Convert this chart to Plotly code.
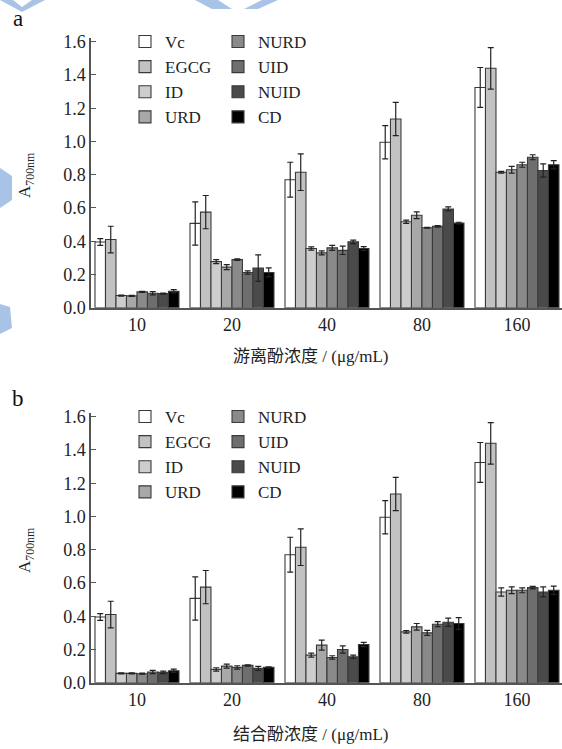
import plotly.graph_objects as go

# ---------------- data ----------------
concentrations = ["10", "20", "40", "80", "160"]
series_names = ["Vc", "EGCG", "ID", "URD", "NURD", "UID", "NUID", "CD"]
series_colors = ["#ffffff", "#c2c2c2", "#cdcdcd", "#a8a8a8", "#8a8a8a", "#6e6e6e", "#4a4a4a", "#000000"]

vc_vals = [0.395, 0.507, 0.77, 0.995, 1.325]
vc_err = [0.02, 0.13, 0.105, 0.10, 0.12]
egcg_vals = [0.41, 0.575, 0.815, 1.135, 1.44]
egcg_err = [0.08, 0.10, 0.11, 0.10, 0.125]

# panel a: free phenols
a_id = [0.073, 0.277, 0.356, 0.517, 0.815]
a_id_err = [0.003, 0.012, 0.01, 0.01, 0.005]
a_urd = [0.071, 0.244, 0.33, 0.556, 0.83]
a_urd_err = [0.003, 0.015, 0.012, 0.02, 0.02]
a_nurd = [0.095, 0.289, 0.36, 0.481, 0.86]
a_nurd_err = [0.003, 0.005, 0.015, 0.003, 0.015]
a_uid = [0.087, 0.212, 0.345, 0.489, 0.905]
a_uid_err = [0.01, 0.01, 0.025, 0.005, 0.015]
a_nuid = [0.085, 0.238, 0.396, 0.594, 0.825]
a_nuid_err = [0.003, 0.08, 0.01, 0.012, 0.04]
a_cd = [0.099, 0.212, 0.356, 0.509, 0.86]
a_cd_err = [0.01, 0.027, 0.012, 0.005, 0.025]

# panel b: bound phenols
b_id = [0.056, 0.08, 0.166, 0.306, 0.546]
b_id_err = [0.003, 0.01, 0.012, 0.008, 0.025]
b_urd = [0.056, 0.10, 0.226, 0.336, 0.556]
b_urd_err = [0.003, 0.012, 0.03, 0.02, 0.02]
b_nurd = [0.054, 0.092, 0.152, 0.30, 0.556]
b_nurd_err = [0.003, 0.01, 0.01, 0.015, 0.015]
b_uid = [0.064, 0.104, 0.20, 0.352, 0.572]
b_uid_err = [0.01, 0.004, 0.022, 0.015, 0.008]
b_nuid = [0.062, 0.086, 0.156, 0.364, 0.546]
b_nuid_err = [0.008, 0.012, 0.01, 0.025, 0.03]
b_cd = [0.072, 0.092, 0.23, 0.356, 0.556]
b_cd_err = [0.01, 0.003, 0.013, 0.035, 0.025]

y_ticks = [0.0, 0.2, 0.4, 0.6, 0.8, 1.0, 1.2, 1.4, 1.6]
x_title_a = "游离酚浓度 / (μg/mL)"
x_title_b = "结合酚浓度 / (μg/mL)"

panel_a = [(vc_vals, vc_err), (egcg_vals, egcg_err), (a_id, a_id_err), (a_urd, a_urd_err),
           (a_nurd, a_nurd_err), (a_uid, a_uid_err), (a_nuid, a_nuid_err), (a_cd, a_cd_err)]
panel_b = [(vc_vals, vc_err), (egcg_vals, egcg_err), (b_id, b_id_err), (b_urd, b_urd_err),
           (b_nurd, b_nurd_err), (b_uid, b_uid_err), (b_nuid, b_nuid_err), (b_cd, b_cd_err)]

# ---------------- layout geometry (pixels) ----------------
W, H = 562, 749
L = 91
PW = W - L
def px(x):
    return (x - L) / PW
def py(y):
    return 1 - y / H

SERIF = "Liberation Serif, Times New Roman, serif"
CJK = "Liberation Serif, Noto Sans CJK SC, serif"
xpos = list(range(len(concentrations)))

fig = go.Figure()
for panel, (data, xa, ya, lg1, lg2) in enumerate([
        (panel_a, "x", "y", "legend", "legend2"),
        (panel_b, "x2", "y2", "legend3", "legend4")]):
    for i, (name, color, (vals, errs)) in enumerate(zip(series_names, series_colors, data)):
        fig.add_trace(go.Bar(
            x=xpos, y=vals, name=name, xaxis=xa, yaxis=ya,
            legend=lg1 if i < 4 else lg2,
            offsetgroup=str(i),
            marker=dict(color=color, line=dict(color="#3a3a3a", width=1.1)),
            error_y=dict(type="data", array=errs, color="#222222", thickness=1.2, width=3),
        ))

axis_common_x = dict(
    tickmode="array", tickvals=xpos, ticktext=concentrations,
    range=[-0.484, 4.474], showgrid=False, zeroline=False,
    showline=True, linecolor="#555555", linewidth=1.5, ticks="",
    tickfont=dict(family=SERIF, size=18, color="#222222"),
)
axis_common_y = dict(
    range=[0, 1.62], tickvals=y_ticks, ticktext=[f"{v:.1f}" for v in y_ticks],
    showgrid=False, zeroline=False, showline=True, linecolor="#555555", linewidth=1.5,
    ticks="inside", ticklen=5, tickcolor="#555555", tickwidth=1.2,
    tickfont=dict(family=SERIF, size=18, color="#222222"),
)

legend_common = dict(
    font=dict(family=SERIF, size=17, color="#222222"),
    bgcolor="rgba(0,0,0,0)", traceorder="normal", orientation="v",
    xanchor="left", yanchor="top", tracegroupgap=0, itemclick=False,
)

fig.update_layout(
    width=W, height=H,
    margin=dict(l=L, r=0, t=0, b=0, autoexpand=False),
    paper_bgcolor="white", plot_bgcolor="white",
    barmode="group", bargap=0.116, bargroupgap=0,
    showlegend=True,
    xaxis=dict(axis_common_x, domain=[0, 1], anchor="y"),
    yaxis=dict(axis_common_y, domain=[py(307.7), py(38.4)], anchor="x"),
    xaxis2=dict(axis_common_x, domain=[0, 1], anchor="y2"),
    yaxis2=dict(axis_common_y, domain=[py(682.7), py(413.4)], anchor="x2"),
    legend=dict(legend_common, x=px(125), y=py(24)),
    legend2=dict(legend_common, x=px(218), y=py(24)),
    legend3=dict(legend_common, x=px(125), y=py(399)),
    legend4=dict(legend_common, x=px(218), y=py(399)),
)

annotations = [
    dict(text="a", x=px(18), y=py(19)),
    dict(text="b", x=px(18), y=py(398)),
]
for a in annotations:
    a.update(xref="paper", yref="paper", showarrow=False, xanchor="center", yanchor="middle",
             font=dict(family=SERIF, size=23, color="#111111"))
for yc in (175, 550):
    annotations.append(dict(text="A<sub>700nm</sub>", x=px(26), y=py(yc), xref="paper", yref="paper",
                            showarrow=False, textangle=-90, xanchor="center", yanchor="middle",
                            font=dict(family=SERIF, size=17, color="#222222")))
for txt, yc in ((x_title_a, 357), (x_title_b, 734)):
    annotations.append(dict(text=txt, x=px(311), y=py(yc), xref="paper", yref="paper",
                            showarrow=False, xanchor="center", yanchor="middle",
                            font=dict(family=CJK, size=17, color="#222222")))
fig.update_layout(annotations=annotations)

# light blue watermark fragments
def path_px(points):
    s = "M " + " L ".join(f"{px(x):.5f},{py(y):.5f}" for x, y in points) + " Z"
    return s
wm = [
    [(0, 0), (13, 0), (22, 7), (32, 0), (45, 0), (22, 12)],
    [(195, 0), (218, 0), (232, 9), (212, 9)],
    [(262, 0), (278, 0), (258, 9), (244, 9)],
    [(0, 168), (12, 176), (12, 200), (0, 208)],
    [(0, 304), (10, 307), (12, 328), (0, 334)],
]
fig.update_layout(shapes=[dict(type="path", path=path_px(p), xref="paper", yref="paper",
                               fillcolor="#a9c3e6", line=dict(width=0), layer="below") for p in wm])

fig.write_html("out.html",
               config={"displayModeBar": False},
               post_script="document.body.style.margin='0';document.body.style.overflow='hidden';")
